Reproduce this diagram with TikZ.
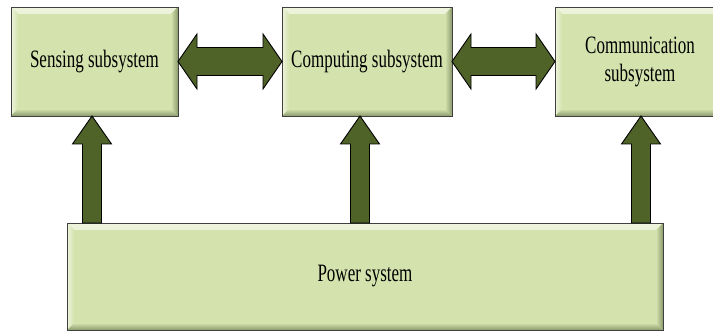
\documentclass[tikz,border=0pt]{standalone}
\usepackage{fontspec}
\usepackage{tikz}
\usetikzlibrary{positioning, calc}

\newfontfamily\labelfont[FakeStretch=0.68]{Liberation Serif}

\definecolor{boxgreen}{HTML}{D4E2AE}
\definecolor{boxlight}{HTML}{EEF4DC}
\definecolor{boxdark}{HTML}{8A9A6A}
\definecolor{arrowgreen}{HTML}{4F6228}

\tikzset{
    subsys/.style={draw=black!75, line width=0.8pt, fill=boxgreen,
        minimum width=167pt, minimum height=109pt, inner sep=0pt, outer sep=0pt,
        align=center, font=\labelfont\fontsize{25}{28}\selectfont,
        path picture={
            \shade[top color=boxlight, bottom color=boxgreen] let \p1=(path picture bounding box.south west), \p2=(path picture bounding box.north east) in
                (\x1,\y2) -- (\x2,\y2) -- (\x2-7,\y2-7) -- (\x1+7,\y2-7) -- cycle;
            \shade[left color=boxlight, right color=boxgreen] let \p1=(path picture bounding box.south west), \p2=(path picture bounding box.north east) in
                (\x1,\y2) -- (\x1+7,\y2-7) -- (\x1+7,\y1+7) -- (\x1,\y1) -- cycle;
            \shade[top color=boxgreen, bottom color=boxdark] let \p1=(path picture bounding box.south west), \p2=(path picture bounding box.north east) in
                (\x1,\y1) -- (\x1+7,\y1+7) -- (\x2-7,\y1+7) -- (\x2,\y1) -- cycle;
            \shade[left color=boxgreen, right color=boxdark] let \p1=(path picture bounding box.south west), \p2=(path picture bounding box.north east) in
                (\x2,\y2) -- (\x2-7,\y2-7) -- (\x2-7,\y1+7) -- (\x2,\y1) -- cycle;
        }},
    blockarrow/.style={draw=black, line width=0.9pt, fill=arrowgreen, line join=miter}
}

% double block arrow, #1 left tip, #2 right tip
\newcommand{\hdarrow}[2]{%
    \draw[blockarrow] let \p1=(#1), \p2=(#2) in
        (\x1,\y1) -- (\x1+19,\y1+27.5) -- (\x1+19,\y1+14) -- (\x2-19,\y1+14) -- (\x2-19,\y1+27.5)
        -- (\x2,\y1) -- (\x2-19,\y1-27.5) -- (\x2-19,\y1-14) -- (\x1+19,\y1-14) -- (\x1+19,\y1-27.5) -- cycle;}

% block arrow from #1 (foot) up to #2 (tip)
\newcommand{\vbarrow}[2]{%
    \draw[blockarrow] let \p1=(#1), \p2=(#2) in
        (\x1-9.5,\y1) -- (\x1-9.5,\y2-28) -- (\x1-19.5,\y2-28) -- (\x1,\y2)
        -- (\x1+19.5,\y2-28) -- (\x1+9.5,\y2-28) -- (\x1+9.5,\y1) -- cycle;}

\begin{document}
\begin{tikzpicture}[x=1pt, y=1pt]
    \useasboundingbox (0,0) rectangle (713,-331);

    \node[subsys] (sense) at (94.5,-61.5) {Sensing subsystem};
    \node[subsys, minimum width=170pt] (comp) [right=104pt of sense] {Computing subsystem};
    \node[subsys, minimum width=170pt] (comm) [right=103pt of comp] {Communication\\subsystem};
    \node[subsys, minimum width=596pt, minimum height=107pt] (power) at (365,-276.5) {Power system};

    \coordinate (p1) at ($(power.north west)+(25,0)$);
    \coordinate (p2) at ($(power.north west)+(293,0)$);
    \coordinate (p3) at ($(power.north west)+(574,0)$);

    \hdarrow{sense.east}{comp.west}
    \hdarrow{comp.east}{comm.west}

    \vbarrow{p1}{p1 |- sense.south}
    \vbarrow{p2}{p2 |- comp.south}
    \vbarrow{p3}{p3 |- comm.south}

\end{tikzpicture}
\end{document}
